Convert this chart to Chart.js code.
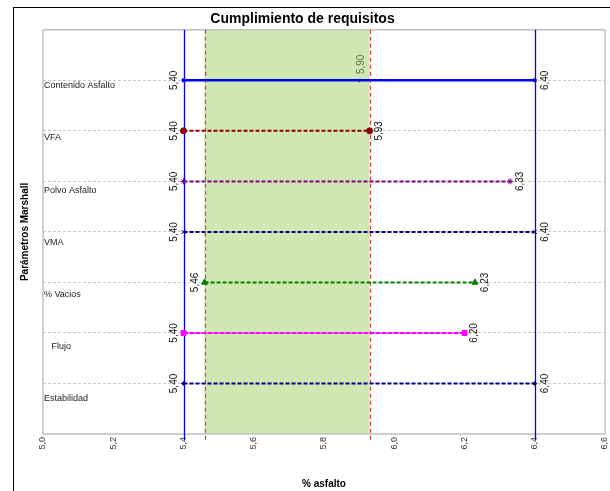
<!DOCTYPE html>
<html>
<head>
<meta charset="utf-8">
<script src="https://cdn.jsdelivr.net/npm/chart.js@4.4.1/dist/chart.umd.min.js"></script>
<style>
  html, body { margin: 0; padding: 0; background: #fff; }
  #wrap { width: 610px; height: 491px; }
</style>
</head>
<body>
<div id="wrap"><canvas id="myChart"></canvas></div>
<script>
// datos
const parametros = ['Contenido Asfalto', 'VFA', 'Polvo Asfalto', 'VMA', '% Vacios', '   Flujo', 'Estabilidad'];
const valoresMin = [5.40, 5.40, 5.40, 5.40, 5.46, 5.40, 5.40];
const valoresMax = [6.40, 5.93, 6.33, 6.40, 6.23, 6.20, 6.40];
const optimo = 5.90;
const rangoCumple = [5.46, 5.93];
const limites = [5.4, 6.4];
const ticksX = [5.0, 5.2, 5.4, 5.6, 5.8, 6.0, 6.2, 6.4, 6.6];

// estilos por fila
const colores = ['#0000ff', '#8b0000', '#800080', '#000080', '#008000', '#ff00ff', '#00008b'];
const puntos = ['rect', 'circle', 'star', 'crossRot', 'triangle', 'rect', 'rectRot'];
const radios = [2, 3, 3, 3, 3.5, 3.5, 2];
const trazos = [[], [4, 2], [4, 2], [4, 2], [4, 2], [5, 1], [4, 2]];

const fmt = (v, d) => v.toFixed(d).replace('.', ',');

const datasets = parametros.map((p, i) => ({
  label: p.trim(),
  data: [{ x: valoresMin[i], y: i + 1 }, { x: valoresMax[i], y: i + 1 }],
  showLine: true,
  borderColor: colores[i],
  backgroundColor: colores[i],
  borderWidth: i === 0 ? 2.5 : 2,
  borderDash: trazos[i],
  pointStyle: puntos[i],
  pointRadius: radios[i],
  pointBorderWidth: 1
}));
datasets.push({
  label: 'Optimo',
  data: [{ x: optimo, y: 1 }],
  pointStyle: 'triangle',
  rotation: 180,
  pointRadius: 2,
  borderColor: '#4060c0',
  backgroundColor: '#4060c0'
});

const rotText = (ctx, txt, x, y, color) => {
  ctx.save();
  ctx.translate(x, y);
  ctx.rotate(-Math.PI / 2);
  ctx.fillStyle = color;
  ctx.fillText(txt, 0, 0);
  ctx.restore();
};

const fondo = {
  id: 'fondo',
  beforeDraw(chart) {
    const ctx = chart.ctx;
    ctx.save();
    ctx.strokeStyle = '#000';
    ctx.lineWidth = 1;
    ctx.strokeRect(13.5, 7.5, 1000, 1000);
    ctx.restore();
  },
  beforeDatasetsDraw(chart) {
    const { ctx, chartArea: a, scales: { x } } = chart;
    ctx.save();
    // zona que cumple
    const x1 = x.getPixelForValue(rangoCumple[0]);
    const x2 = x.getPixelForValue(rangoCumple[1]);
    ctx.fillStyle = '#cfe8b1';
    ctx.fillRect(x1, a.top, x2 - x1, a.bottom - a.top);
    // borde del area
    ctx.strokeStyle = '#c0c0c0';
    ctx.lineWidth = 1.5;
    ctx.strokeRect(a.left, a.top, a.right - a.left, a.bottom - a.top);
    // limites rojos
    ctx.strokeStyle = '#d84040';
    ctx.lineWidth = 1.2;
    ctx.setLineDash([4, 3]);
    rangoCumple.forEach(v => {
      const px = Math.round(x.getPixelForValue(v)) + 0.5;
      ctx.beginPath(); ctx.moveTo(px, a.top); ctx.lineTo(px, a.bottom + 8); ctx.stroke();
    });
    // limites azules
    ctx.setLineDash([]);
    ctx.strokeStyle = '#0000ff';
    ctx.lineWidth = 1.3;
    limites.forEach(v => {
      const px = Math.round(x.getPixelForValue(v)) + 0.5;
      ctx.beginPath(); ctx.moveTo(px, a.top); ctx.lineTo(px, a.bottom + 6); ctx.stroke();
    });
    ctx.restore();
  },
  afterDatasetsDraw(chart) {
    const ctx = chart.ctx;
    ctx.save();
    ctx.font = '10px "Liberation Sans", Arial, sans-serif';
    ctx.textAlign = 'center';
    ctx.textBaseline = 'middle';
    parametros.forEach((p, i) => {
      const pts = chart.getDatasetMeta(i).data;
      rotText(ctx, fmt(valoresMin[i], 2), pts[0].x - 9, pts[0].y, '#111');
      rotText(ctx, fmt(valoresMax[i], 2), pts[1].x + 10, pts[1].y, '#111');
    });
    const o = chart.getDatasetMeta(parametros.length).data[0];
    rotText(ctx, fmt(optimo, 2), o.x + 2, o.y - 16, '#5b6f4e');
    ctx.restore();
  }
};

const ctx = document.getElementById('myChart').getContext('2d');

const myChart = new Chart(ctx, {
  type: 'scatter',
  data: { datasets },
  options: {
    responsive: true,
    maintainAspectRatio: false,
    animation: false,
    layout: { padding: { left: 0, right: 5, top: 0, bottom: 0 } },
    plugins: {
      legend: { display: false },
      tooltip: { enabled: false },
      title: {
        display: true,
        text: 'Cumplimiento de requisitos',
        color: '#000',
        font: { family: '"Liberation Sans", Arial, sans-serif', size: 14, weight: 'bold' },
        padding: { top: 11, bottom: 2 }
      }
    },
    scales: {
      x: {
        type: 'linear',
        min: 5.0,
        max: 6.6,
        afterBuildTicks: s => { s.ticks = ticksX.map(v => ({ value: v })); },
        afterFit: s => { s.height = 57; s.paddingLeft = 0; s.paddingRight = 0; },
        border: { display: false },
        grid: { display: false, drawTicks: false },
        ticks: {
          minRotation: 90,
          maxRotation: 90,
          padding: 3,
          color: '#333',
          font: { family: '"Liberation Sans", Arial, sans-serif', size: 9 },
          callback: v => fmt(v, 1)
        },
        title: {
          display: true,
          text: '% asfalto',
          color: '#000',
          font: { family: '"Liberation Sans", Arial, sans-serif', size: 10, weight: 'bold' },
          padding: { top: 0, bottom: 1 }
        }
      },
      y: {
        type: 'linear',
        position: 'left',
        weight: 1,
        min: 0,
        max: 8,
        reverse: true,
        afterBuildTicks: s => { s.ticks = parametros.map((p, i) => ({ value: i + 1 })); },
        afterFit: s => { s.width = 43; s.paddingTop = 0; s.paddingBottom = 0; },
        border: { display: false },
        grid: { color: '#c8c8c8', lineWidth: 1, drawTicks: false },
        ticks: { display: false },
        title: {
          display: true,
          text: 'Parámetros Marshall',
          color: '#000',
          font: { family: '"Liberation Sans", Arial, sans-serif', size: 10, weight: 'bold' },
          padding: { top: 19, bottom: 0 }
        }
      },
      yl: {
        type: 'linear',
        position: 'left',
        weight: 0,
        min: -0.073,
        max: 7.671,
        reverse: true,
        afterBuildTicks: s => { s.ticks = parametros.map((p, i) => ({ value: i + 1 })); },
        afterFit: s => { s.width = 0; s.paddingTop = 0; s.paddingBottom = 0; },
        border: { display: false },
        grid: { display: false, drawTicks: false },
        ticks: {
          mirror: true,
          padding: 1,
          autoSkip: false,
          color: '#222',
          font: { family: '"Liberation Sans", Arial, sans-serif', size: 9 },
          callback: v => parametros[Math.round(v) - 1]
        }
      }
    }
  },
  plugins: [fondo]
});

// lineas de la cuadricula discontinuas
myChart.options.scales.y.grid.borderDash = [3, 2];
myChart.options.scales.y.border.dash = [3, 2];
myChart.update();
</script>
</body>
</html>
